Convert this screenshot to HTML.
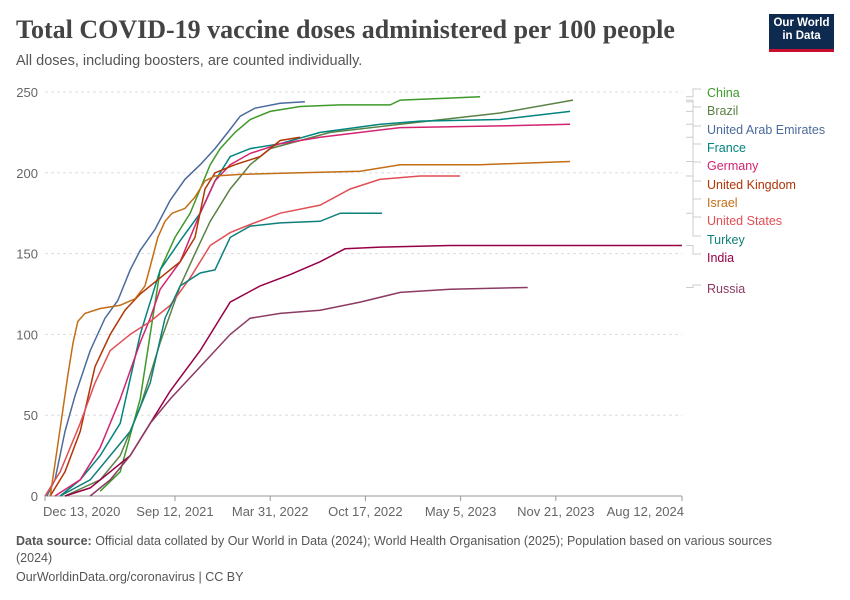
<!DOCTYPE html>
<html><head><meta charset="utf-8"><style>
body{margin:0;background:#fff;font-family:"Liberation Sans",sans-serif}
#wrap{position:relative;width:850px;height:600px;overflow:hidden}
h1{position:absolute;left:16px;top:15px;margin:0;font-family:"Liberation Serif",serif;font-size:26px;font-weight:bold;color:#444}
.sub{position:absolute;left:16px;top:53px;font-size:14.5px;color:#555}
.logo{position:absolute;left:769px;top:14px;width:65px;height:38px;background:#0e2a4f;border-bottom:3px solid #c8102e;color:#fff;font-size:11.5px;font-weight:bold;line-height:13px;text-align:center;padding-top:3px;box-sizing:border-box}
.foot{position:absolute;left:16px;font-size:12.5px;color:#555}
</style></head><body><div id="wrap">
<h1>Total COVID-19 vaccine doses administered per 100 people</h1>
<div class="sub">All doses, including boosters, are counted individually.</div>
<div class="logo">Our World<br>in Data</div>
<svg id="svg" width="850" height="600" style="position:absolute;left:0;top:0"></svg>
<div class="foot" style="top:533px;width:790px;line-height:17px"><b>Data source:</b> Official data collated by Our World in Data (2024); World Health Organisation (2025); Population based on various sources (2024)</div>
<div class="foot" style="top:570px">OurWorldinData.org/coronavirus | CC BY</div>
</div>
<script>
const yTicks=[0,50,100,150,200,250];
const xTickLabels=["Dec 13, 2020","Sep 12, 2021","Mar 31, 2022","Oct 17, 2022","May 5, 2023","Nov 21, 2023","Aug 12, 2024"];
const xTickDays=[0,273,473,673,873,1073,1338];
const seriesNames=["China","Brazil","United Arab Emirates","France","Germany","United Kingdom","Israel","United States","Turkey","India","Russia"];
const seriesColors=["#3d9a2a","#5b8246","#4c6a9c","#00847e","#d3246f","#b13507","#c36d16","#e04f55","#0f7f7a","#970046","#8c3a63"];
const daysChina=[116,158,200,221,242,273,305,326,347,368,399,431,473,536,620,725,746,830,914];
const valsChina=[3,15,60,100,140,160,175,190,205,215,225,233,238,241,242,242,245,246,247];
const daysBrazil=[42,116,158,200,242,284,315,347,389,431,473,536,599,746,956,1109];
const valsBrazil=[0,10,25,55,95,130,150,170,190,205,215,220,225,230,237,245];
const daysUAE=[4,21,42,63,95,126,153,179,200,231,263,294,326,357,384,410,441,494,546];
const valsUAE=[0,10,40,62,90,110,121,140,152,165,183,196,205,215,225,235,240,243,244];
const daysFrance=[32,74,116,158,200,242,284,326,357,389,431,494,578,704,788,956,1103];
const valsFrance=[0,10,25,45,100,140,158,175,195,210,215,218,225,230,232,233,238];
const daysGermany=[21,74,116,158,200,221,242,284,326,357,389,431,494,578,746,956,1103];
const valsGermany=[0,10,30,60,95,110,128,145,175,195,205,212,218,222,228,229,230];
const daysUK=[11,42,74,105,137,168,200,242,284,315,336,357,399,452,494,536];
const valsUK=[0,15,40,80,100,115,125,135,145,160,190,200,205,210,220,222];
const daysIsrael=[11,21,36,48,59,69,84,116,158,189,210,221,237,252,267,294,315,336,357,410,536,662,704,746,914,1103];
const valsIsrael=[0,20,50,75,95,108,113,116,118,122,130,142,160,170,175,178,185,195,198,199,200,201,203,205,205,207];
const daysUS=[0,32,74,105,137,179,221,263,305,347,389,431,494,578,641,704,788,872];
const valsUS=[0,15,45,70,90,100,108,118,135,155,163,168,175,180,190,196,198,198];
const daysTurkey=[32,95,137,179,221,252,284,326,357,389,431,494,578,620,708];
const valsTurkey=[0,10,25,40,70,110,130,138,140,160,167,169,170,175,175];
const daysIndia=[42,95,137,179,221,263,326,389,452,515,578,630,704,851,1338];
const valsIndia=[0,5,15,25,45,65,90,120,130,137,145,153,154,155,155];
const daysRussia=[95,137,179,221,263,326,389,431,494,578,662,746,851,1014];
const valsRussia=[0,10,25,45,60,80,100,110,113,115,120,126,128,129];
const allDays=[daysChina,daysBrazil,daysUAE,daysFrance,daysGermany,daysUK,daysIsrael,daysUS,daysTurkey,daysIndia,daysRussia];
const allVals=[valsChina,valsBrazil,valsUAE,valsFrance,valsGermany,valsUK,valsIsrael,valsUS,valsTurkey,valsIndia,valsRussia];
const labelY=[93,111,130,148,166,185,203,221,240,258,289];

const X0=45,X1=682,Y0=496,Y1=92;
const x=d=>X0+d*(X1-X0)/1338;
const y=v=>Y0-v*(Y0-Y1)/250;
const svg=document.getElementById('svg');
const NS='http://www.w3.org/2000/svg';
function mk(t,a){const e=document.createElementNS(NS,t);for(const k in a)e.setAttribute(k,a[k]);svg.appendChild(e);return e;}
yTicks.forEach(v=>{
  const l=mk('line',{x1:X0,x2:X1,y1:y(v),y2:y(v),stroke:v?'#ddd':'#999','stroke-dasharray':v?'3,3':''});
  
  
  const t=mk('text',{x:38,y:y(v)+5,'text-anchor':'end','font-size':13,fill:'#666'});
  t.textContent=v;
  
  
});
xTickLabels.forEach((s,i)=>{
  const px=x(xTickDays[i]);
  const tk=mk('line',{x1:px,x2:px,y1:Y0,y2:Y0+5,stroke:'#999'});
  
  
  const t=mk('text',{x:i==0?px-2:i==xTickLabels.length-1?px+2:px,y:516,'text-anchor':i==0?'start':i==xTickLabels.length-1?'end':'middle','font-size':13,fill:'#666'});
  t.textContent=s;
  
  
});
seriesNames.forEach((n,i)=>{
  const d=allDays[i].map((dd,j)=>(j?'L':'M')+x(dd).toFixed(1)+','+y(allVals[i][j]).toFixed(1)).join('');
  const p=mk('path',{d:d,fill:'none',stroke:seriesColors[i],'stroke-width':1.5});
  
  
  const last=allVals[i][allVals[i].length-1];
  const c=mk('path',{d:`M686,${y(last).toFixed(1)}H693V${labelY[i]-4}H701`,fill:'none',stroke:'#ccc','stroke-width':1});
  
  
  const t=mk('text',{x:707,y:labelY[i]+4,'font-size':12.5,fill:seriesColors[i]});
  t.textContent=n;
  
  
});
</script></body></html>
